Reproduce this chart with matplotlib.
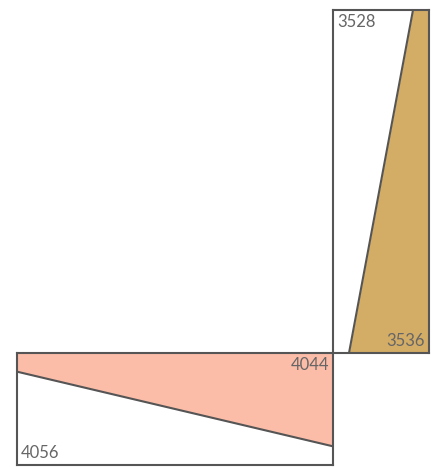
import matplotlib
matplotlib.use("Agg")
import matplotlib.pyplot as plt

# Data
v_labels = [3528, 3536]      # vertical panel: top, bottom
v_domain = [3526, 3538]
h_labels = [4056, 4044]      # horizontal panel: left, right
h_domain = [4041, 4059]

tan = "#D3AC66"
salmon = "#FBBCA8"
edge = "#555555"
txt = "#666666"

plt.rcParams['font.family'] = ['Lato', 'DejaVu Sans']

W, H = 438, 467
fig = plt.figure(figsize=(W / 100, H / 100), dpi=100)

def ax_px(x0, x1, y0, y1):
    return fig.add_axes([x0 / W, (H - y1) / H, (x1 - x0) / W, (y1 - y0) / H])

# Vertical panel
axv = ax_px(333, 429, 10, 353)
ypos = [0, 1]
axv.set_ylim(1, 0)
axv.set_xlim(v_domain[1], v_domain[0])
axv.fill_betweenx(ypos, v_labels, v_domain[0], color=tan, lw=0)
axv.plot(v_labels, ypos, color=edge, lw=1.5, solid_capstyle='butt')
axv.annotate(str(v_labels[0]), xy=(0, 1), xycoords='axes fraction',
             xytext=(3, -3), textcoords='offset points', ha='left', va='top',
             fontsize=12, color=txt)
axv.annotate(str(v_labels[1]), xy=(1, 0), xycoords='axes fraction',
             xytext=(-3, 3), textcoords='offset points', ha='right', va='bottom',
             fontsize=12, color=txt)

# Horizontal panel
axh = ax_px(17, 333, 353, 465)
xpos = [0, 1]
axh.set_xlim(0, 1)
axh.set_ylim(h_domain[0], h_domain[1])
axh.fill_between(xpos, h_labels, h_domain[1], color=salmon, lw=0)
axh.plot(xpos, h_labels, color=edge, lw=1.5, solid_capstyle='butt')
axh.annotate(str(h_labels[1]), xy=(1, 1), xycoords='axes fraction',
             xytext=(-3, -3), textcoords='offset points', ha='right', va='top',
             fontsize=12, color=txt)
axh.annotate(str(h_labels[0]), xy=(0, 0), xycoords='axes fraction',
             xytext=(3, 3), textcoords='offset points', ha='left', va='bottom',
             fontsize=12, color=txt)

for ax in (axv, axh):
    ax.set_xticks([])
    ax.set_yticks([])
    for s in ax.spines.values():
        s.set_color(edge)
        s.set_linewidth(1.5)
    ax.patch.set_alpha(0)

fig.savefig("out.png", dpi=100)
